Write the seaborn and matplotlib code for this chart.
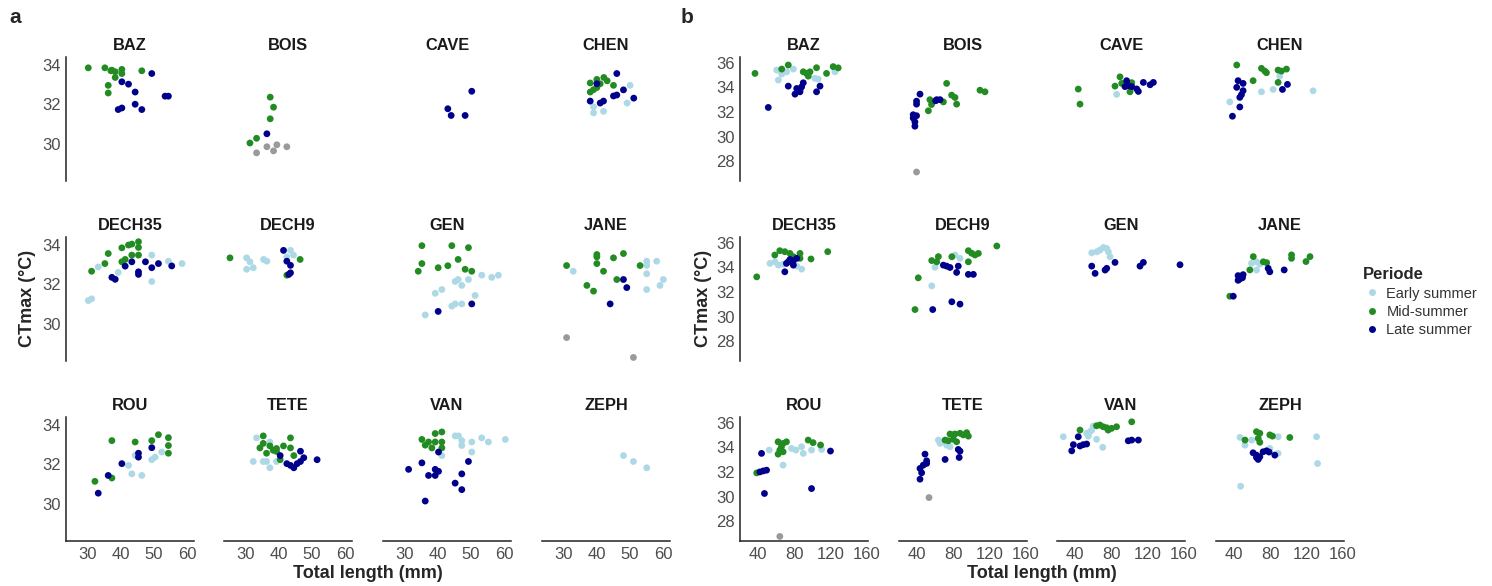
## CTmax vs total length, per site, two sampling years (a, b)
import pandas as pd
import seaborn as sns
import matplotlib.pyplot as plt
from matplotlib.lines import Line2D

sites = ["BAZ", "BOIS", "CAVE", "CHEN", "DECH35", "DECH9", "GEN", "JANE",
         "ROU", "TETE", "VAN", "ZEPH"]
periods = ["Early summer", "Mid-summer", "Late summer"]
colors = {"Early summer": "#ADD8E6", "Mid-summer": "#228B22",
          "Late summer": "#00008B", "NA": "#9a9a9a"}

# panel a : (total length mm, CTmax) per period
a_BAZ = {"Mid-summer": [(30.3, 33.85), (35.3, 33.85), (37.4, 33.73), (38.4, 33.65), (40.4, 33.77), (40.4, 33.56),
                        (38.4, 33.36), (36.3, 32.96), (36.3, 32.57), (46.4, 33.7), (37.1, 33.7)],
         "Late summer": [(49.4, 33.56), (40.4, 33.14), (42.4, 33.02), (44.4, 32.62), (53.4, 32.41), (54.4, 32.41),
                         (39.3, 31.73), (40.4, 31.81), (44.4, 32.0), (46.4, 31.73)]}
a_BOIS = {"Mid-summer": [(37.5, 32.36), (38.5, 31.85), (37.5, 31.26), (33.4, 30.27), (31.4, 30.03)],
          "Late summer": [(36.5, 30.5)],
          "NA": [(33.4, 29.53), (36.5, 29.84), (38.5, 29.63), (39.5, 29.94), (42.5, 29.84)]}
a_CAVE = {"Late summer": [(50.3, 32.66), (43.1, 31.77), (44.1, 31.43), (48.3, 31.43)]}
a_CHEN = {"Early summer": [(50.1, 32.96), (49.2, 32.06), (39.1, 31.56), (42.1, 31.64), (39.1, 31.87)],
          "Mid-summer": [(38.1, 33.08), (40.1, 33.26), (42.2, 33.36), (43.2, 33.19), (45.1, 32.96), (38.1, 32.62),
                         (39.1, 32.74), (40.1, 32.85), (41.1, 33.04)],
          "Late summer": [(46.1, 33.56), (40.1, 33.04), (38.1, 32.16), (41.1, 32.06), (42.1, 32.16), (45.1, 32.42),
                          (46.1, 32.47), (48.1, 32.73), (51.2, 32.31)]}
a_DECH35 = {"Early summer": [(30.3, 31.17), (31.3, 31.26), (33.3, 32.88), (39.3, 32.6), (49.4, 33.48), (49.4, 32.14),
                             (54.4, 33.17), (58.5, 33.05)],
            "Mid-summer": [(31.3, 32.66), (35.3, 33.05), (36.3, 33.56), (40.4, 33.85), (42.4, 33.99), (43.4, 34.04),
                           (45.4, 34.16), (45.4, 33.87), (45.4, 33.48), (43.4, 33.48), (41.4, 33.26), (40.4, 33.14)],
            "Late summer": [(37.4, 32.35), (38.4, 32.25), (41.4, 32.92), (43.4, 33.14), (45.4, 32.63), (45.4, 32.5),
                            (47.5, 33.14), (49.4, 32.84), (51.4, 33.05), (55.4, 32.93)]}
a_DECH9 = {"Early summer": [(30.4, 33.34), (31.4, 33.14), (30.4, 32.76), (32.4, 32.84), (35.5, 33.26), (36.5, 33.17),
                            (43.6, 33.72), (44.5, 33.48), (42.5, 33.39)],
           "Mid-summer": [(25.4, 33.34), (46.5, 33.26), (42.5, 32.46)],
           "Late summer": [(41.5, 33.72), (42.5, 33.17), (43.6, 32.96), (43.6, 32.58), (43.1, 32.5)]}
a_GEN = {"Early summer": [(53.3, 32.46), (56.3, 32.35), (58.3, 32.46), (49.3, 32.24), (46.2, 32.24), (45.3, 32.14),
                          (47.3, 31.94), (41.3, 31.73), (39.3, 31.54), (51.3, 31.43), (44.3, 30.89), (45.3, 31.0),
                          (47.3, 31.0), (36.3, 30.44)],
         "Mid-summer": [(35.3, 33.96), (44.3, 33.96), (49.3, 33.86), (35.3, 33.05), (34.2, 32.66), (40.2, 32.84),
                        (43.1, 32.94), (46.2, 33.26), (48.3, 32.76), (50.3, 32.66)],
         "Late summer": [(40.2, 30.62), (50.3, 31.0)]}
a_JANE = {"Early summer": [(33.0, 32.66), (55.1, 33.17), (55.1, 32.96), (58.1, 33.17), (55.1, 32.53), (60.1, 32.24),
                           (59.1, 31.94), (55.1, 31.73)],
          "Mid-summer": [(31.0, 32.95), (40.1, 33.51), (40.1, 33.39), (40.1, 33.05), (45.1, 33.34), (48.1, 33.56),
                         (53.1, 32.95), (42.1, 32.66), (46.1, 32.24), (37.1, 31.94), (39.1, 31.65)],
          "Late summer": [(48.1, 32.24), (49.1, 31.83), (44.1, 31.0)],
          "NA": [(31.0, 29.29), (51.1, 28.28)]}
a_ROU = {"Early summer": [(42.4, 31.94), (43.4, 31.51), (46.4, 31.43), (44.4, 32.45), (49.4, 32.23), (50.4, 32.36),
                          (52.4, 32.62)],
         "Mid-summer": [(32.3, 31.13), (37.4, 33.2), (37.4, 31.3), (44.4, 33.13), (49.4, 33.2), (51.4, 33.5),
                        (54.4, 33.35), (54.4, 32.95), (54.4, 32.56)],
         "Late summer": [(33.3, 30.53), (36.3, 31.43), (40.4, 32.03), (45.4, 32.56), (45.4, 32.36), (49.4, 32.84)]}
a_TETE = {"Early summer": [(33.4, 33.34), (32.4, 32.14), (35.4, 32.14), (36.4, 32.14), (37.4, 31.82), (37.4, 33.13),
                           (39.4, 32.14)],
          "Mid-summer": [(35.4, 33.44), (34.4, 32.83), (35.4, 33.06), (37.4, 32.93), (36.4, 32.56), (38.4, 32.71),
                         (39.4, 32.8), (40.5, 32.23), (41.5, 32.93), (43.6, 33.34), (43.6, 32.83), (44.6, 32.44),
                         (39.4, 32.65)],
          "Late summer": [(40.5, 32.44), (42.5, 32.03), (43.6, 31.94), (44.6, 31.82), (45.6, 32.03), (46.6, 32.14),
                          (47.6, 32.33), (46.6, 32.66), (51.6, 32.23)]}
a_VAN = {"Early summer": [(45.3, 33.44), (46.3, 33.44), (47.3, 33.2), (47.3, 32.95), (50.3, 33.13), (50.3, 32.62),
                          (53.3, 33.34), (55.3, 33.13), (60.4, 33.26), (41.3, 32.44)],
         "Mid-summer": [(35.3, 33.26), (36.3, 32.97), (37.3, 33.13), (38.3, 32.83), (39.3, 33.56), (39.3, 33.13),
                        (41.3, 33.64), (41.3, 33.13), (41.3, 32.83)],
         "Late summer": [(40.3, 32.62), (35.3, 32.07), (31.3, 31.74), (37.3, 31.43), (39.3, 31.74), (40.3, 31.64),
                         (39.3, 31.43), (49.3, 32.14), (47.3, 31.51), (45.3, 31.04), (47.3, 30.71), (36.3, 30.13)]}
a_ZEPH = {"Early summer": [(48.1, 32.44), (51.1, 32.14), (55.1, 31.82)]}

# panel b
b_BAZ = {"Early summer": [(60.6, 35.39), (62.4, 34.58), (66.1, 35.07), (71.6, 35.25), (78.9, 35.47), (102.5, 34.72),
                          (106.2, 34.66), (124.6, 35.25)],
         "Mid-summer": [(36.7, 35.12), (66.1, 35.47), (73.3, 35.8), (89.8, 35.25), (93.4, 35.12), (97.2, 35.25),
                        (95.3, 34.9), (104.4, 35.58), (115.4, 35.12), (122.7, 35.67), (128.2, 35.57)],
         "Late summer": [(51.3, 32.36), (73.3, 34.09), (80.7, 33.44), (82.6, 33.9), (86.2, 33.82), (88.0, 34.03),
                         (89.8, 34.36), (86.2, 33.63), (104.4, 33.63), (108.2, 34.09)]}
b_BOIS = {"Mid-summer": [(52.5, 32.09), (54.2, 32.99), (56.0, 32.6), (69.0, 32.81), (72.6, 34.31), (78.1, 33.36),
                         (81.8, 33.17), (83.6, 32.63), (109.3, 33.76), (114.8, 33.63)],
          "Late summer": [(43.3, 33.44), (39.5, 32.87), (39.5, 32.63), (35.8, 31.77), (39.5, 31.69), (35.8, 31.5),
                          (37.7, 31.19), (37.7, 30.84), (61.7, 32.99), (65.3, 32.99), (60.5, 32.9)],
          "NA": [(39.5, 27.13)]}
b_CAVE = {"Early summer": [(85.8, 33.42)],
          "Mid-summer": [(43.6, 33.85), (45.5, 32.63), (84.0, 34.09), (89.5, 34.84), (91.4, 34.31), (100.5, 33.63),
                         (102.4, 34.37)],
          "Late summer": [(96.8, 34.53), (98.6, 34.13), (95.0, 34.05), (102.4, 34.05), (107.9, 33.86), (109.7, 33.66),
                          (115.2, 34.39), (122.6, 34.2), (126.2, 34.39)]}
b_CHEN = {"Early summer": [(90.4, 34.9), (35.4, 32.81), (70.2, 33.63), (83.0, 33.82), (127.0, 33.71)],
          "Mid-summer": [(43.0, 35.8), (61.0, 34.53), (70.2, 35.53), (73.9, 35.31), (75.7, 35.18), (88.5, 35.39),
                         (92.2, 35.31), (97.7, 35.47), (88.5, 34.39)],
          "Late summer": [(44.5, 34.53), (50.0, 34.31), (43.0, 33.99), (50.0, 33.72), (48.2, 33.4), (46.4, 33.18),
                          (46.4, 32.4), (38.3, 31.65), (98.8, 34.23), (93.3, 33.82)]}
b_DECH35 = {"Early summer": [(53.2, 34.31), (58.7, 34.44), (62.4, 34.17), (67.9, 34.25), (82.6, 34.09), (88.0, 33.85)],
            "Mid-summer": [(38.6, 33.22), (64.0, 35.34), (69.5, 35.26), (58.5, 34.99), (75.2, 35.12), (86.2, 35.12),
                           (86.2, 34.72), (98.3, 34.67), (116.7, 35.26), (78.9, 34.85)],
            "Late summer": [(69.5, 33.63), (73.3, 34.44), (75.2, 34.63), (78.9, 34.52), (82.6, 34.72), (71.3, 34.31),
                            (78.9, 34.17)]}
b_DECH9 = {"Early summer": [(56.2, 32.49), (59.8, 34.0), (81.8, 34.99), (87.3, 34.72)],
           "Mid-summer": [(41.4, 33.14), (37.8, 30.57), (56.2, 34.54), (63.5, 34.86), (61.7, 34.44), (78.3, 34.85),
                          (96.5, 35.34), (100.2, 35.13), (103.8, 34.99), (107.5, 35.12), (96.5, 34.44), (127.8, 35.72)],
           "Late summer": [(69.0, 34.17), (72.6, 34.09), (76.3, 33.98), (83.6, 33.58), (85.4, 34.09), (96.5, 33.42),
                           (102.0, 33.42), (57.3, 30.57), (78.3, 31.2), (87.3, 31.01)]}
b_GEN = {"Early summer": [(58.4, 35.17), (63.9, 35.25), (67.5, 35.39), (71.2, 35.6), (74.9, 35.52), (76.7, 35.25),
                          (78.5, 34.85)],
         "Late summer": [(58.4, 34.09), (62.1, 33.5), (73.1, 33.77), (74.9, 33.91), (84.0, 34.39), (111.5, 34.09),
                         (115.2, 34.39), (155.5, 34.2)]}
b_JANE = {"Early summer": [(59.3, 34.31), (64.8, 34.44), (68.4, 34.25), (64.8, 33.77)],
          "Mid-summer": [(61.2, 34.86), (103.3, 35.0), (103.3, 34.72), (123.6, 34.86), (119.2, 34.46), (72.2, 34.44),
                         (75.9, 34.37), (57.4, 33.78), (35.4, 31.65)],
          "Late summer": [(39.2, 31.65), (44.5, 33.32), (46.4, 33.05), (50.0, 33.4), (44.5, 32.94), (49.3, 33.15),
                          (77.6, 33.91), (79.4, 33.63), (95.2, 33.78)]}
b_ROU = {"Early summer": [(52.4, 33.77), (76.9, 33.9), (81.7, 33.77), (87.9, 34.04), (89.8, 33.5), (98.9, 33.77),
                          (110.0, 33.82), (67.6, 32.55)],
         "Mid-summer": [(38.6, 31.92), (62.1, 34.44), (67.6, 34.31), (71.3, 34.44), (65.8, 34.04), (64.0, 33.77),
                        (67.6, 33.63), (62.1, 33.44), (95.2, 34.58), (100.6, 34.37), (108.8, 34.18)],
         "Late summer": [(43.9, 33.5), (42.1, 32.0), (45.8, 32.08), (49.4, 32.14), (47.1, 30.25), (98.9, 30.65),
                         (119.7, 33.69)],
         "NA": [(64.0, 26.77)]}
b_TETE = {"Early summer": [(63.5, 34.58), (65.3, 34.31), (69.0, 34.44), (72.6, 34.17), (76.3, 34.04)],
          "Mid-summer": [(70.9, 34.58), (76.3, 35.07), (80.0, 34.64), (81.8, 35.07), (83.6, 34.44), (87.3, 35.13),
                         (90.9, 35.0), (94.6, 35.18), (96.5, 34.9), (80.0, 35.0), (74.5, 34.52)],
          "Late summer": [(48.8, 33.44), (50.6, 32.9), (46.9, 32.55), (43.3, 32.28), (45.1, 31.93), (43.3, 31.41),
                          (50.6, 32.69), (70.9, 33.01), (85.4, 33.82), (87.3, 33.68), (86.4, 33.17)],
          "NA": [(53.2, 29.92)]}
b_VAN = {"Early summer": [(27.1, 34.85), (52.8, 35.13), (56.5, 35.26), (58.4, 35.39), (54.7, 34.9), (63.7, 34.64),
                          (70.5, 33.99), (60.1, 35.72)],
         "Mid-summer": [(45.5, 35.39), (63.7, 35.74), (67.4, 35.8), (71.0, 35.66), (74.7, 35.58), (76.5, 35.39),
                        (80.2, 35.53), (85.7, 35.66), (102.4, 36.06)],
         "Late summer": [(38.2, 34.21), (36.4, 33.71), (43.6, 34.85), (45.5, 34.1), (49.1, 34.21), (52.8, 34.26),
                         (98.6, 34.52), (102.4, 34.58), (109.7, 34.58)]}
b_ZEPH = {"Early summer": [(46.6, 34.8), (52.1, 34.17), (59.4, 34.58), (88.5, 34.85), (88.5, 33.5), (79.4, 33.9),
                           (130.8, 34.85), (131.9, 32.68), (47.3, 30.84)],
          "Mid-summer": [(52.1, 34.58), (64.7, 35.26), (68.4, 35.13), (66.6, 34.72), (68.4, 34.4), (79.4, 35.0),
                         (82.3, 34.9), (101.4, 34.79)],
          "Late summer": [(61.0, 33.55), (64.7, 33.36), (66.6, 33.01), (68.4, 33.22), (72.0, 33.63), (75.7, 33.71),
                          (78.6, 33.61), (84.9, 33.36), (64.7, 33.17)]}

panel_a = [a_BAZ, a_BOIS, a_CAVE, a_CHEN, a_DECH35, a_DECH9, a_GEN, a_JANE, a_ROU, a_TETE, a_VAN, a_ZEPH]
panel_b = [b_BAZ, b_BOIS, b_CAVE, b_CHEN, b_DECH35, b_DECH9, b_GEN, b_JANE, b_ROU, b_TETE, b_VAN, b_ZEPH]


def to_long(panel):
    rows = []
    for site, d in zip(sites, panel):
        for per in ["NA"] + periods:
            for x, y in d.get(per, []):
                rows.append((site, per, x, y))
    return pd.DataFrame(rows, columns=["site", "Periode", "length", "ctmax"])


df_a = to_long(panel_a)
df_b = to_long(panel_b)

sns.set_theme(style="white")
plt.rcParams["font.family"] = ["Liberation Sans", "DejaVu Sans"]

W, H = 1492, 586
fig = plt.figure(figsize=(W / 100, H / 100), dpi=100)

col_left = {"a": [66, 224, 383, 542], "b": [740, 899, 1057, 1216]}
row_top = [57, 237, 417]
pw, ph = 128, 124
settings = {"a": dict(df=df_a, xlim=(23.6, 62.1), ylim=(28.1, 34.4), xt=[30, 40, 50, 60], yt=[30, 32, 34]),
            "b": dict(df=df_b, xlim=(20.2, 161), ylim=(26.4, 36.45), xt=[40, 80, 120, 160], yt=[28, 30, 32, 34, 36])}

for key, st in settings.items():
    for i, site in enumerate(sites):
        r, c = divmod(i, 4)
        L, T = col_left[key][c], row_top[r]
        ax = fig.add_axes([L / W, 1 - (T + ph) / H, pw / W, ph / H])
        sub = st["df"][st["df"]["site"] == site]
        sns.scatterplot(data=sub, x="length", y="ctmax", hue="Periode", palette=colors,
                        s=24, linewidth=0, legend=False, ax=ax)
        ax.set_xlim(st["xlim"])
        ax.set_ylim(st["ylim"])
        ax.set_xticks(st["xt"])
        ax.set_yticks(st["yt"])
        ax.set_xlabel("")
        ax.set_ylabel("")
        ax.set_title(site, fontsize=11.8, fontweight="bold", color="#1a1a1a", pad=5)
        ax.tick_params(length=0, labelsize=12, colors="#4d4d4d", pad=4)
        for s in ["top", "right"]:
            ax.spines[s].set_visible(False)
        ax.spines["left"].set_visible(c == 0)
        ax.spines["bottom"].set_visible(r == 2)
        for s in ["left", "bottom"]:
            ax.spines[s].set_color("#222222")
            ax.spines[s].set_linewidth(1.1)
        if c != 0:
            ax.set_yticklabels([])
        if r != 2:
            ax.set_xticklabels([])

# axis titles and panel letters
fig.text(28 / W, 1 - 298 / H, "CTmax (°C)", rotation=90, ha="center", va="center", fontsize=13, fontweight="bold")
fig.text(703 / W, 1 - 298 / H, "CTmax (°C)", rotation=90, ha="center", va="center", fontsize=13, fontweight="bold")
fig.text(368 / W, 1 - 573 / H, "Total length (mm)", ha="center", va="center", fontsize=13, fontweight="bold")
fig.text(1042 / W, 1 - 573 / H, "Total length (mm)", ha="center", va="center", fontsize=13, fontweight="bold")
fig.text(9 / W, 1 - 8 / H, "a", ha="left", va="top", fontsize=15, fontweight="bold")
fig.text(681 / W, 1 - 8 / H, "b", ha="left", va="top", fontsize=15, fontweight="bold")

handles = [Line2D([], [], marker="o", linestyle="", markersize=5, markerfacecolor=colors[p],
                  markeredgewidth=0, label=p) for p in periods]
leg = fig.legend(handles=handles, title="Periode", loc="upper left", bbox_to_anchor=(1350 / W, 1 - 254 / H),
                 frameon=False, fontsize=10.5, title_fontproperties={"weight": "bold", "size": 12},
                 handletextpad=0.4, labelspacing=0.3, handlelength=1.2)
leg._legend_box.align = "left"
for t in leg.get_texts():
    t.set_color("#333333")

fig.savefig("out.png", dpi=100)
